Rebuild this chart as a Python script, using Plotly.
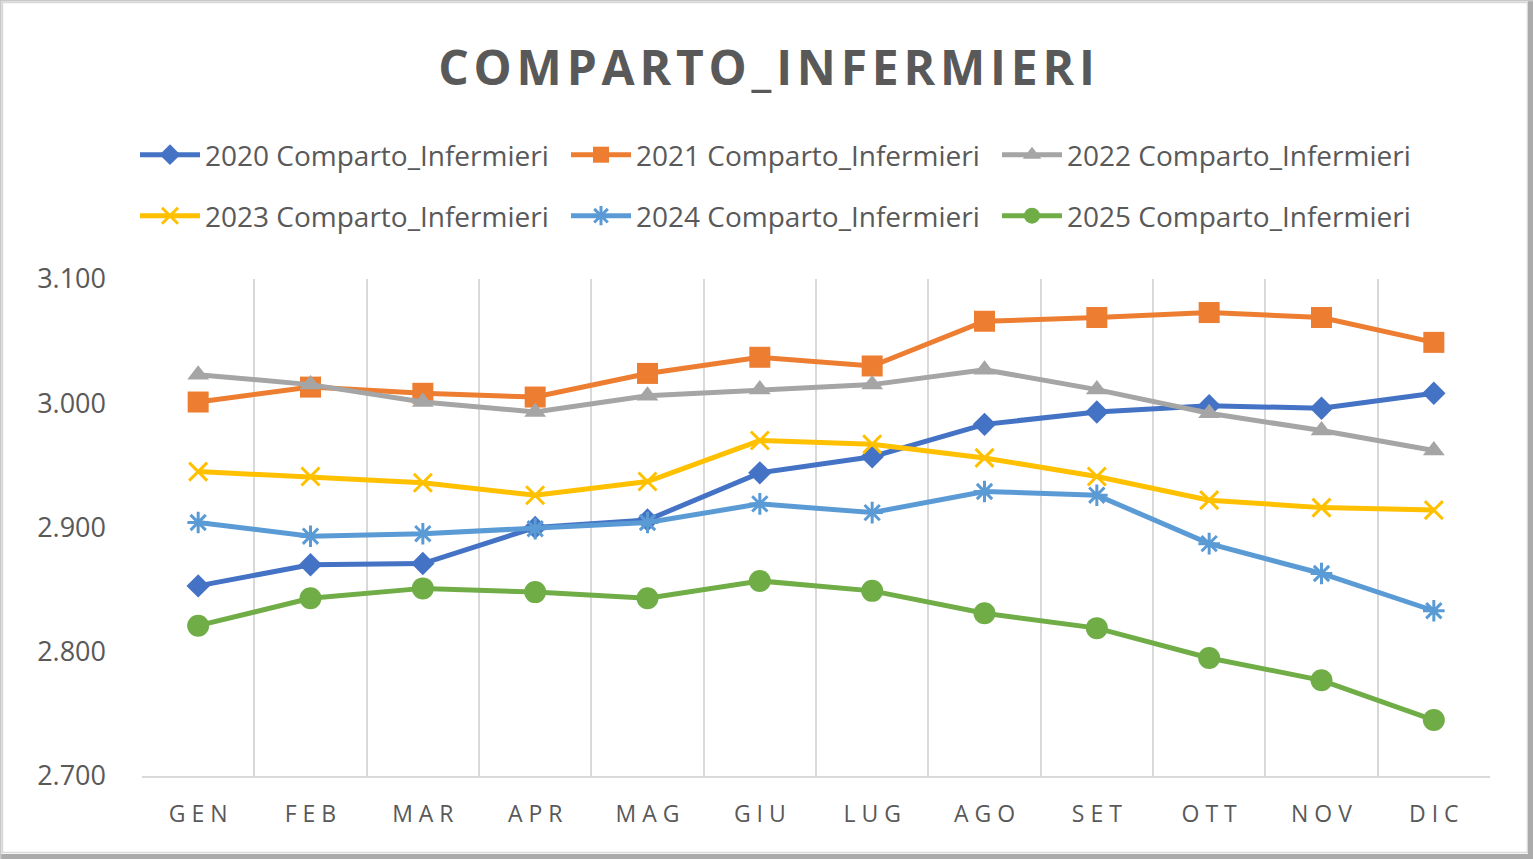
import plotly.graph_objects as go

months = ["GEN", "FEB", "MAR", "APR", "MAG", "GIU", "LUG", "AGO", "SET", "OTT", "NOV", "DIC"]
y2020 = [2853, 2870, 2871, 2900, 2906, 2944, 2957, 2983, 2993, 2998, 2996, 3008]
y2021 = [3001, 3013, 3008, 3005, 3024, 3037, 3030, 3066, 3069, 3073, 3069, 3049]
y2022 = [3023, 3015, 3001, 2993, 3006, 3011, 3015, 3027, 3011, 2992, 2978, 2962]
y2023 = [2945, 2941, 2936, 2926, 2937, 2970, 2967, 2956, 2941, 2922, 2916, 2914]
y2024 = [2904, 2893, 2895, 2899, 2904, 2919, 2912, 2929, 2926, 2887, 2863, 2833]
y2025 = [2821, 2843, 2851, 2848, 2843, 2857, 2849, 2831, 2819, 2795, 2777, 2745]
series_names = ["2020 Comparto_Infermieri", "2021 Comparto_Infermieri", "2022 Comparto_Infermieri",
                "2023 Comparto_Infermieri", "2024 Comparto_Infermieri", "2025 Comparto_Infermieri"]
y_ticks = [2700, 2800, 2900, 3000, 3100]
title_text = "COMPARTO_INFERMIERI"

W, H = 1533, 859
L, R, T, B = 142, 43, 279, 83
PW, PH = W - L - R, H - T - B

styles = [
    dict(color="#4472C4", symbol="diamond", size=18, lw=0),
    dict(color="#ED7D31", symbol="square", size=21, lw=0),
    dict(color="#A5A5A5", symbol="triangle-up", size=19, lw=0),
    dict(color="#FFC000", symbol="x-thin-open", size=18, lw=3),
    dict(color="#5B9BD5", symbol="asterisk-open", size=18, lw=3),
    dict(color="#70AD47", symbol="circle", size=22, lw=0),
]
data = [y2020, y2021, y2022, y2023, y2024, y2025]

fig = go.Figure()
for i, (name, ys, st) in enumerate(zip(series_names, data, styles)):
    fig.add_trace(go.Scatter(
        x=months, y=ys, name=name, mode="lines+markers",
        line=dict(color=st["color"], width=5),
        marker=dict(symbol=st["symbol"], size=st["size"], color=st["color"],
                    line=dict(color=st["color"], width=st["lw"])),
        legend="legend" if i < 3 else "legend2",
    ))

def px_x(p):
    return (p - L) / PW

def px_y(p):
    return 1 - (p - T) / PH

legend_common = dict(
    orientation="h", xanchor="left", yanchor="middle",
    font=dict(family="Open Sans", size=28, color="#595959"),
    entrywidth=356, entrywidthmode="pixels", itemwidth=60,
    bgcolor="rgba(0,0,0,0)", traceorder="normal",
)

fig.update_layout(
    width=W, height=H,
    margin=dict(l=L, r=R, t=T, b=B),
    paper_bgcolor="white", plot_bgcolor="white",
    separators=",.",
    title=dict(text="<b>" + "\u200a".join(title_text) + "</b>", x=0.5, xanchor="center",
               xref="container",
               y=1 - 68 / H, yref="container", yanchor="middle",
               font=dict(family="Open Sans", size=48, color="#595959")),
    legend=dict(x=px_x(135), y=px_y(155), **legend_common),
    legend2=dict(x=px_x(135), y=px_y(216), **legend_common),
    xaxis=dict(type="category", tickson="boundaries", showgrid=True, gridcolor="#D9D9D9",
               gridwidth=2, showline=True, linecolor="#D9D9D9", linewidth=2,
               ticks="", ticktext=[" ".join(m) for m in months], tickvals=months,
               tickfont=dict(family="Open Sans", size=23, color="#595959"),
               ticklabelstandoff=16,
               range=[-0.5, 11.5], zeroline=False),
    yaxis=dict(range=[2700, 3100], tickvals=y_ticks, tickformat=",.0f", showgrid=False,
               zeroline=False, showline=False, ticks="",
               tickfont=dict(family="Open Sans", size=27, color="#595959"),
               ticklabelstandoff=35),
)

# chart frame
fig.add_shape(type="rect", xref="paper", yref="paper",
              x0=px_x(2.5), x1=px_x(1527.5), y0=px_y(852.5), y1=px_y(2.5),
              line=dict(color="#D9D9D9", width=1.5), layer="below")
fig.add_shape(type="line", xref="paper", yref="paper",
              x0=px_x(0), x1=px_x(1533), y0=px_y(856.5), y1=px_y(856.5),
              line=dict(color="#ABABAB", width=5), layer="below")
fig.add_shape(type="line", xref="paper", yref="paper",
              x0=px_x(1530.5), x1=px_x(1530.5), y0=px_y(0), y1=px_y(859),
              line=dict(color="#ABABAB", width=5), layer="below")
fig.add_shape(type="line", xref="paper", yref="paper",
              x0=px_x(0.75), x1=px_x(0.75), y0=px_y(0), y1=px_y(859),
              line=dict(color="#C8C8C8", width=1.5), layer="below")
fig.add_shape(type="line", xref="paper", yref="paper",
              x0=px_x(0), x1=px_x(1533), y0=px_y(0.75), y1=px_y(0.75),
              line=dict(color="#C8C8C8", width=1.5), layer="below")

fig.write_html("out.html", config={"displayModeBar": False},
               post_script="document.body.style.margin='0';document.body.style.overflow='hidden';")
